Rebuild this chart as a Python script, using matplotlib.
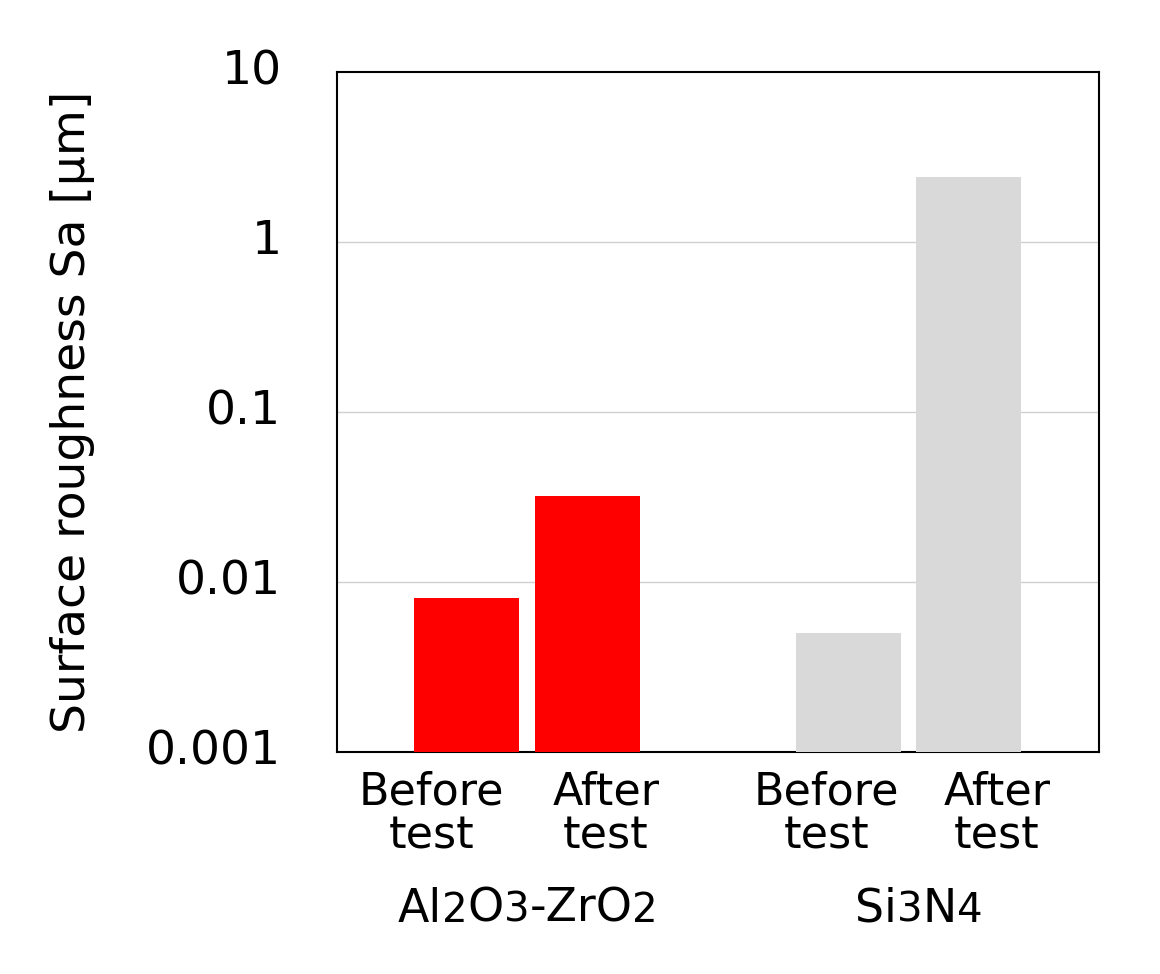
import matplotlib
matplotlib.use("Agg")
import matplotlib.pyplot as plt
from matplotlib.transforms import ScaledTranslation, offset_copy

plt.rcParams['font.family'] = ['DejaVu Sans']

# group names as (text, is_subscript) segments
groups = [[("Al", False), ("2", True), ("O", False), ("3", True), ("-ZrO", False), ("2", True)],
          [("Si", False), ("3", True), ("N", False), ("4", True)]]
conditions = ["Before\ntest", "After\ntest"]
values = [[0.008, 0.032], [0.005, 2.4]]
colors = ["#ff0000", "#d9d9d9"]
yticks = [0.001, 0.01, 0.1, 1, 10]
ytick_labels = ["0.001", "0.01", "0.1", "1", "10"]

# layout positions (data units, 120 px per unit)
bar_pos = [[1.083, 2.0875], [4.2625, 5.2625]]
label_pos = [[0.785, 2.24], [4.08, 5.5]]
group_pos = [1.59, 4.85]
bar_w = 0.875

fig = plt.figure(figsize=(11.6, 9.74), dpi=100)
ax = fig.add_axes([337/1160, 1 - 752/974, (1099-337)/1160, (752-72)/974])
ax.set_yscale('log')
ax.set_ylim(0.001, 10)
ax.set_xlim(0, 762/120)
xt = ax.get_xaxis_transform()
renderer = fig.canvas.get_renderer()

for gi, g in enumerate(groups):
    ax.bar(bar_pos[gi], values[gi], width=bar_w, color=colors[gi], zorder=3)
    for ci, c in enumerate(conditions):
        for li, line in enumerate(c.split("\n")):
            ax.text(label_pos[gi][ci], -0.0765 - li * 0.0647, line, transform=xt,
                    ha='center', va='baseline', fontsize=32)
    # group label with smaller digits on the baseline
    segs = []
    for txt, sub in g:
        t = ax.text(group_pos[gi], -0.25, txt, transform=xt, ha='left', va='baseline',
                    fontsize=29 if sub else 33)
        segs.append(t)
    widths = [s.get_window_extent(renderer).width for s in segs]
    total = sum(widths)
    x0 = -total / 2
    for s, w in zip(segs, widths):
        s.set_transform(offset_copy(xt, fig=fig, x=x0, y=0, units='dots'))
        x0 += w

ax.set_yticks(yticks)
ax.set_yticklabels(ytick_labels, fontsize=34)
ax.minorticks_off()
ax.tick_params(axis='y', length=0, pad=40)
ax.set_xticks([])
for lab in ax.get_yticklabels():
    lab.set_transform(lab.get_transform() + ScaledTranslation(0, 5/100, fig.dpi_scale_trans))
for y in yticks[1:-1]:
    ax.axhline(y, color='#d0d0d0', lw=1, zorder=1)
for s in ax.spines.values():
    s.set_linewidth(1.5)
    s.set_color('black')
ax.set_ylabel("Surface roughness Sa [μm]", fontsize=34)
ax.yaxis.set_label_coords(-0.318, 0.5)

fig.savefig("out.png", dpi=100)
